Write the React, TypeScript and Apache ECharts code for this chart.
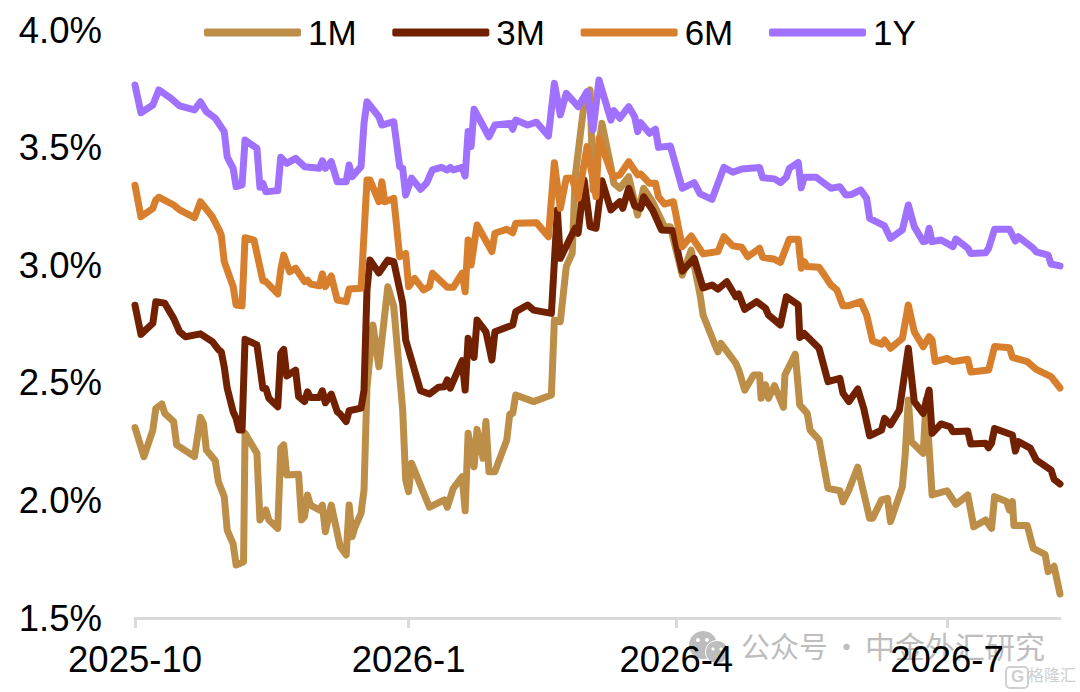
import React, { useEffect, useRef } from "react";
import * as echarts from "echarts";

// x = days since 2025-10-01, y = percent
const tickDays = [0, 92, 182, 273];
const tickLabels = ["2025-10", "2026-1", "2026-4", "2026-7"];
const seriesNames = ["1M", "3M", "6M", "1Y"];

const m1: [number, number][] = [[0,2.31],[3,2.186],[6,2.299],[7,2.391],[9,2.41],[10,2.37],[13,2.335],[14,2.236],[20,2.186],[22,2.353],[23,2.328],[24,2.214],[27,2.169],[28,2.08],[30,2.016],[31,1.874],[33,1.815],[34,1.725],[36.5,1.739],[37,2.285],[41,2.2],[42,1.917],[44,1.959],[45,1.917],[48,1.881],[49,2.222],[50,2.236],[51,2.108],[55,2.111],[56,1.917],[57,1.931],[58,2.023],[59,1.98],[62,1.959],[63,1.98],[64,1.867],[66,1.98],[69,1.803],[71,1.768],[72,1.98],[73,1.846],[74,1.888],[76,1.945],[77,2.044],[78,2.483],[80,2.746],[82,2.568],[85,2.908],[87,2.824],[90,2.384],[91,2.087],[92,2.037],[93,2.158],[99,1.971],[104,2.002],[105,1.971],[107,2.051],[110,2.101],[111,1.956],[112,2.285],[114,2.143],[115,2.302],[117,2.179],[118,2.335],[119,2.122],[121,2.122],[125,2.257],[126,2.367],[127,2.37],[128,2.448],[134,2.42],[140,2.448],[141,2.767],[143,2.76],[145,2.994],[147,3.051],[148,3.376],[151,3.688],[153,3.745],[154,3.32],[157,3.603],[160,3.419],[161,3.348],[163,3.327],[166,3.376],[169,3.213],[171,3.327],[174,3.27],[178,3.164],[180,3.164],[184,2.958],[187,3.064],[190,2.873],[191,2.788],[195,2.661],[196,2.632],[197,2.668],[202,2.583],[203,2.554],[205,2.469],[208,2.533],[210,2.533],[210.5,2.434],[212,2.491],[213,2.434],[215,2.488],[218,2.396],[218.5,2.533],[222,2.622],[223.5,2.406],[226,2.37],[227,2.299],[230,2.257],[233,2.051],[237,2.041],[238,1.994],[240,2.044],[243,2.141],[247,1.924],[248,1.924],[251,2.002],[253,2.009],[254,1.91],[258,2.058],[259,2.202],[260,2.427],[261,2.25],[265,2.2],[266,2.427],[268,2.023],[273,2.041],[276,1.983],[280,2.023],[282,1.888],[286,1.917],[288,1.881],[289,2.016],[293,1.995],[294,1.959],[295,1.995],[295.5,1.893],[300,1.893],[302,1.796],[306,1.77],[307,1.697],[309,1.72],[311,1.602]];

const m3: [number, number][] = [[0,2.83],[2,2.706],[6,2.753],[7,2.845],[10,2.838],[13,2.774],[15,2.717],[17,2.696],[22,2.708],[26,2.675],[28,2.642],[29,2.632],[30,2.568],[31,2.477],[33,2.377],[34,2.349],[35,2.299],[36,2.299],[37,2.685],[41,2.661],[43,2.477],[44,2.477],[45,2.434],[48,2.398],[49,2.625],[50,2.642],[51,2.529],[54,2.554],[55,2.441],[57,2.42],[58,2.462],[59,2.438],[62,2.438],[63,2.466],[64,2.415],[66,2.452],[68,2.377],[69,2.367],[71,2.335],[72,2.381],[76,2.392],[77,2.469],[78,2.895],[79,3.022],[82,2.967],[85,3.022],[87,3.015],[90,2.838],[91,2.682],[96,2.466],[99,2.452],[102,2.481],[104,2.483],[105,2.512],[106,2.477],[110,2.594],[111,2.469],[112,2.689],[114,2.608],[115,2.767],[118,2.717],[120,2.597],[121,2.717],[127,2.746],[128,2.802],[132,2.831],[134,2.809],[140,2.795],[142,3.235],[143,3.029],[146,3.107],[148,3.157],[149,3.136],[151,3.362],[153,3.164],[155,3.157],[157,3.359],[160,3.235],[163,3.27],[164,3.242],[166,3.327],[168,3.252],[170,3.242],[171,3.291],[174,3.235],[177,3.15],[181,3.147],[183,3.029],[184,2.975],[188,3.029],[191,2.903],[194,2.916],[196,2.898],[199,2.93],[202,2.866],[203,2.878],[205,2.812],[209,2.845],[212,2.817],[213,2.788],[217,2.746],[219,2.866],[223,2.831],[223.5,2.693],[225,2.71],[230,2.647],[233,2.505],[237,2.519],[238,2.457],[240,2.42],[243,2.474],[245,2.392],[247,2.275],[251,2.299],[252,2.349],[254,2.321],[257,2.384],[260,2.647],[262,2.42],[265,2.37],[267,2.469],[268,2.285],[271,2.325],[274,2.313],[275,2.292],[280,2.295],[281,2.24],[286,2.243],[287,2.224],[288,2.244],[289,2.306],[295,2.278],[296,2.21],[297,2.25],[301,2.222],[303,2.172],[308,2.129],[309,2.09],[311,2.07]];

const m6: [number, number][] = [[0,3.34],[2,3.206],[6,3.242],[7,3.277],[8,3.289],[13,3.256],[15,3.235],[20,3.202],[22,3.27],[26,3.206],[28,3.157],[29,3.128],[30,3.015],[33,2.909],[34,2.831],[36,2.827],[37,3.117],[40,3.107],[43,2.934],[44,2.93],[48,2.878],[49,2.98],[50,3.043],[52,2.972],[54,2.987],[57,2.93],[58,2.937],[59,2.92],[62,2.912],[63,2.963],[64,2.909],[66,2.954],[68,2.852],[71,2.845],[72,2.899],[76,2.902],[78,3.362],[79,3.362],[82,3.27],[83,3.355],[84,3.27],[87,3.284],[89,3.036],[91,3.05],[92,2.909],[94,2.944],[97,2.895],[99,2.909],[100,2.966],[105,2.906],[107,2.906],[110,2.966],[111,2.887],[112,3.107],[113,3.001],[115,3.171],[120,3.058],[121,3.136],[125,3.153],[127,3.138],[128,3.178],[135,3.181],[139,3.121],[141,3.436],[143,3.242],[145,3.37],[147,3.37],[149,3.284],[152,3.504],[155,3.291],[156,3.54],[160,3.398],[161,3.376],[163,3.384],[166,3.44],[169,3.384],[170,3.388],[173,3.348],[175,3.348],[176,3.291],[178,3.26],[181,3.27],[184,3.079],[187,3.124],[191,3.048],[196,3.058],[198,3.121],[201,3.082],[204,3.076],[206,3.036],[210,3.072],[211,3.034],[215,3.025],[217,3.012],[220,3.11],[223,3.11],[224,2.987],[225,3.015],[226,2.994],[230,2.991],[234,2.916],[236,2.895],[238,2.828],[240,2.828],[244,2.845],[246,2.788],[248,2.678],[251,2.664],[252,2.682],[254,2.647],[258,2.689],[260,2.831],[262,2.717],[265,2.653],[267,2.696],[268,2.682],[269,2.59],[273,2.604],[275,2.59],[280,2.6],[281,2.546],[287,2.554],[289,2.654],[294,2.649],[295,2.608],[300,2.59],[303,2.557],[308,2.526],[311,2.478]];

const y1: [number, number][] = [[0,3.766],[2,3.648],[6,3.681],[8,3.745],[12,3.71],[15,3.677],[20,3.66],[22,3.695],[24,3.653],[27,3.625],[30,3.568],[31,3.461],[33,3.412],[34,3.334],[36,3.341],[37,3.532],[41,3.497],[42,3.331],[43,3.348],[44,3.312],[48,3.317],[49,3.459],[51,3.433],[54,3.454],[57,3.419],[62,3.412],[63,3.444],[64,3.412],[66,3.44],[68,3.355],[71,3.355],[72,3.426],[73,3.376],[76,3.419],[77,3.603],[78,3.695],[82,3.631],[83,3.596],[87,3.61],[89,3.419],[90,3.412],[91,3.298],[93,3.37],[96,3.323],[98,3.348],[100,3.405],[103,3.416],[105,3.405],[106,3.416],[107,3.405],[110,3.416],[111,3.379],[112,3.568],[113,3.504],[114,3.663],[119,3.546],[121,3.596],[126,3.603],[127,3.578],[128,3.617],[132,3.596],[135,3.608],[139,3.549],[141,3.773],[143,3.639],[145,3.731],[149,3.674],[152,3.738],[154,3.575],[156,3.787],[160,3.617],[161,3.657],[163,3.625],[166,3.674],[168,3.631],[169,3.568],[170,3.606],[173,3.561],[175,3.578],[176,3.501],[180,3.507],[184,3.327],[188,3.351],[190,3.303],[194,3.28],[198,3.416],[201,3.395],[204,3.409],[210,3.415],[211,3.372],[215,3.367],[217,3.351],[219,3.374],[220,3.412],[223,3.437],[224,3.329],[225,3.374],[229,3.374],[234,3.327],[237,3.334],[239,3.298],[241,3.301],[244,3.32],[246,3.284],[247,3.199],[252,3.167],[254,3.114],[258,3.15],[260,3.256],[262,3.164],[265,3.1],[266,3.103],[267,3.157],[268,3.1],[271,3.107],[275,3.079],[276,3.111],[280,3.072],[281,3.05],[286,3.053],[287,3.072],[289,3.153],[294,3.153],[296,3.103],[297,3.121],[302,3.072],[303,3.057],[307,3.043],[308,3.005],[311,2.997]];

const allSeries = [m1, m3, m6, y1];
const colors = ["#BC8E48", "#712000", "#D77F2D", "#A070FF"];
const FONT = "'Liberation Sans', Arial, sans-serif";
const CJK = "'Noto Sans CJK SC', sans-serif";
const WM = "#bdbdbd";

export default function App() {
  const ref = useRef<HTMLDivElement>(null);
  useEffect(() => {
    const chart = echarts.init(ref.current!, undefined, { renderer: "svg" });
    chart.setOption({
      animation: false,
      backgroundColor: "#fff",
      textStyle: { fontFamily: FONT },
      grid: { left: 135, top: 30, width: 925, height: 588, containLabel: false },
      legend: {
        left: 204,
        top: 15,
        padding: 0,
        icon: "roundRect",
        itemWidth: 97,
        itemHeight: 8,
        itemGap: 35.7,
        data: seriesNames,
        textStyle: { fontFamily: FONT, fontSize: 35, color: "#000", padding: [2, 0, 0, 2] },
      },
      xAxis: {
        type: "value",
        min: 0,
        max: 311,
        splitLine: { show: false },
        axisLine: { show: true, lineStyle: { color: "#D9D9D9", width: 3 } },
        axisTick: { show: true, customValues: tickDays, length: 10, lineStyle: { color: "#D9D9D9", width: 3 } },
        axisLabel: {
          customValues: tickDays,
          margin: 23,
          fontFamily: FONT,
          fontSize: 36.5,
          color: "#000",
          formatter: (v: number) => tickLabels[tickDays.indexOf(v)] ?? "",
        },
      },
      yAxis: {
        type: "value",
        min: 1.5,
        max: 4,
        interval: 0.5,
        splitLine: { show: false },
        axisLine: { show: false },
        axisTick: { show: false },
        axisLabel: {
          margin: 33,
          fontFamily: FONT,
          fontSize: 36.5,
          color: "#000",
          formatter: (v: number) => `${v.toFixed(1)}%`,
        },
      },
      series: allSeries.map((data, i) => ({
        name: seriesNames[i],
        type: "line",
        data,
        symbol: "none",
        clip: false,
        smooth: false,
        lineStyle: { color: colors[i], width: 7, cap: "round", join: "round" },
        itemStyle: { color: colors[i] },
      })),
      graphic: [
        { type: "circle", z: -1, shape: { cx: 703, cy: 645, r: 14 }, style: { fill: WM } },
        { type: "circle", z: -1, shape: { cx: 717, cy: 652, r: 11.5 }, style: { fill: WM, stroke: "#fff", lineWidth: 1 } },
        { type: "circle", z: -1, shape: { cx: 698, cy: 640, r: 2 }, style: { fill: "#fff" } },
        { type: "circle", z: -1, shape: { cx: 707, cy: 640, r: 2 }, style: { fill: "#fff" } },
        { type: "circle", z: -1, shape: { cx: 713, cy: 649, r: 1.6 }, style: { fill: "#fff" } },
        { type: "circle", z: -1, shape: { cx: 721, cy: 649, r: 1.6 }, style: { fill: "#fff" } },
        { type: "text", z: -1, x: 741, y: 630, style: { text: "公众号", font: `29px ${CJK}`, fill: WM } },
        { type: "text", z: -1, x: 832, y: 630, style: { text: "·", font: `29px ${CJK}`, fill: WM } },
        { type: "text", z: -1, x: 865, y: 630, style: { text: "中金外汇研究", font: `30px ${CJK}`, fill: WM } },
        { type: "rect", z: -1, shape: { x: 1006, y: 667, width: 22, height: 21, r: 4 }, style: { fill: "none", stroke: "#cfcfcf", lineWidth: 2 } },
        { type: "text", z: -1, x: 1011, y: 668, style: { text: "G", font: `bold 17px ${FONT}`, fill: "#cfcfcf" } },
        { type: "text", z: -1, x: 1028, y: 666, style: { text: "格隆汇", font: `16px ${CJK}`, fill: "#cfcfcf" } },
      ],
    });
    return () => chart.dispose();
  }, []);
  return (
    <div
      ref={ref}
      style={{ position: "fixed", left: 0, top: 0, width: 1080, height: 692, background: "#fff" }}
    />
  );
}
